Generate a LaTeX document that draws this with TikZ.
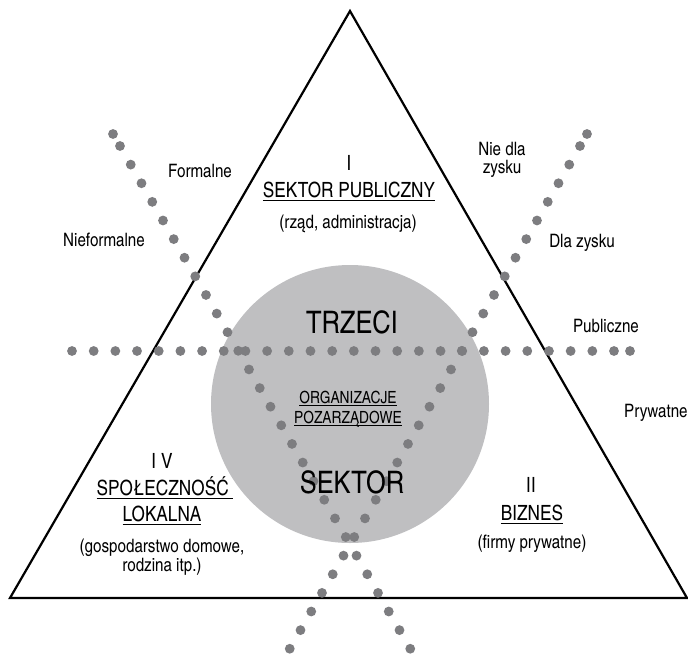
\documentclass[tikz,border=0pt]{standalone}
\usepackage{fontspec}
\setmainfont{TeX Gyre Heros Cn}
\usepackage{tikz}
\usetikzlibrary{positioning}

\definecolor{dotgray}{RGB}{125,125,128}
\definecolor{discgray}{RGB}{191,191,193}

% underlined word, rule set below the baseline
\newcommand{\ulword}[1]{\setbox0\hbox{#1}\rlap{\rule[-0.2em]{\wd0}{0.065em}}\box0}

\tikzset{
  pdot/.style={fill=dotgray, draw=none},
  txt/.style={inner sep=0pt, anchor=base},
  numlabel/.style={txt, font=\fontsize{21}{21}\selectfont},
  sectorhead/.style={txt, font=\fontsize{21}{21}\selectfont},
  sectornote/.style={txt, font=\fontsize{18.5}{19}\selectfont},
  axislabel/.style={txt, font=\fontsize{18.5}{18.5}\selectfont},
  bigword/.style={txt, font=\fontsize{31}{31}\selectfont},
  ngoword/.style={txt, font=\fontsize{16.8}{16.8}\selectfont}
}

\begin{document}
\begin{tikzpicture}[x=1pt, y=-1pt]
        \useasboundingbox (0,0) rectangle (688,656);

        % third sector disc
        \fill[discgray] (350,404) circle (139);

        \draw[line width=2.2pt, line join=miter] (10,598) -- (350,11) -- (687,598) -- cycle;

        % dotted dividing lines
        \foreach \k in {0,...,25}
            \fill[pdot] (72+21.68*\k,351) circle (4.9);
        \fill[pdot] (630,351) circle (4.9);
        \fill[pdot] (113,134) circle (4.9);
        \foreach \k in {0,...,27}
            \fill[pdot] (120+10.75*\k,146+18.62*\k) circle (4.9);
        \fill[pdot] (587,134) circle (4.9);
        \foreach \k in {0,...,27}
            \fill[pdot] (580-10.75*\k,146+18.62*\k) circle (4.9);

        \node[numlabel] (pubnum) at (349,170) {I};
        \node[sectorhead] (pub) at (349,197) {\ulword{SEKTOR PUBLICZNY}};
        \node[sectornote] (pubnote) at (348,228) {(rząd, administracja)};

        \node[numlabel] (locnum) at (162,468) {I V};
        \node[sectorhead] (loc) at (165,495) {\ulword{SPOŁECZNOŚĆ\ }};
        \node[sectorhead] (loc2) at (162,521) {\ulword{LOKALNA}};
        \node[sectornote] (locnote) at (162,552) {(gospodarstwo domowe,};
        \node[sectornote] (locnote2) at (162,571) {rodzina itp.)};

        \node[numlabel] (biznum) at (531,492) {II};
        \node[sectorhead] (biz) at (532,520) {\ulword{BIZNES}};
        \node[sectornote] (biznote) at (532,548) {(firmy prywatne)};

        \node[bigword] (trzeci) at (352,333) {TRZECI};
        \node[ngoword] (ngo) at (348,403) {\ulword{ORGANIZACJE}};
        \node[ngoword] (ngo2) at (348,423) {\ulword{POZARZĄDOWE}};
        \node[bigword] (sektor) at (352,493) {SEKTOR};

        \node[axislabel] (formal) at (200,177) {Formalne};
        \node[axislabel] (informal) at (104,246) {Nieformalne};
        \node[axislabel] (nonprofit) at (502,155) {Nie dla};
        \node[axislabel] (nonprofit2) at (502,173) {zysku};
        \node[axislabel] (profit) at (582,247) {Dla zysku};
        \node[axislabel] (public) at (606,332) {Publiczne};
        \node[axislabel, anchor=base west] (private) at (624,417) {Prywatne};
\end{tikzpicture}
\end{document}
